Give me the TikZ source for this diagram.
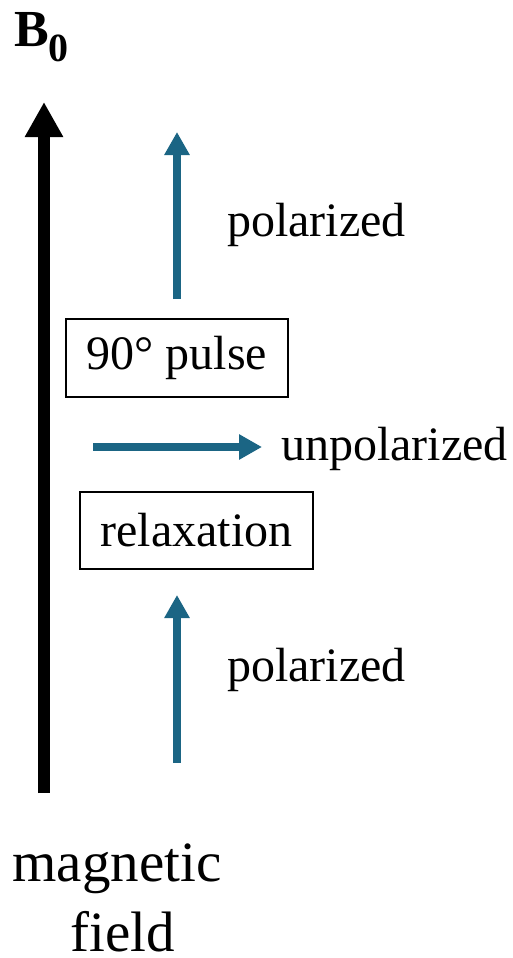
\documentclass[tikz,border=0pt]{standalone}
\usepackage{fontspec}
\setmainfont{Liberation Serif}
\usetikzlibrary{arrows.meta}
\definecolor{arrowblue}{HTML}{1B6584}
\begin{document}
\begin{tikzpicture}[x=1pt,y=-1pt,
  lbl/.style={font=\fontsize{48}{52}\selectfont, inner sep=0pt},
  bigl/.style={font=\fontsize{57}{62}\selectfont, inner sep=0pt},
  boxn/.style={draw, line width=1.5pt, font=\fontsize{48}{52}\selectfont, inner sep=0pt},
  bluearrow/.style={draw=arrowblue, line width=8.5pt, -{Triangle[length=23pt,width=24pt]}},
  fieldarrow/.style={draw=black, line width=12pt, -{Triangle[length=35pt,width=36pt]}}]
\useasboundingbox (0,0) rectangle (513,958);
% field arrow
\coordinate (fb) at (44,793);
\coordinate (ft) at (44,102);
\draw[fieldarrow] (fb) -- (ft);
\node[inner sep=0pt, anchor=base west] (b0) at (14,47) {\fontsize{52}{56}\selectfont\bfseries B\raisebox{-15pt}{\fontsize{40}{44}\selectfont 0}};
% boxes
\node[boxn, minimum width=222pt, minimum height=78pt] (pulse) at (177,358) {90° pulse};
\node[boxn, minimum width=233pt, minimum height=77pt] (relax) at (196.5,530.5) {relaxation};
% arrows
\coordinate (ua) at (177,299);
\coordinate (ub) at (177,132);
\draw[bluearrow] (ua) -- (ub);
\coordinate (la) at (177,763);
\coordinate (lb) at (177,595);
\draw[bluearrow] (la) -- (lb);
\coordinate (ha) at (93,447);
\coordinate (hb) at (262,447);
\draw[bluearrow] (ha) -- (hb);
% labels
\node[lbl, anchor=west] (pol1) at (227,225) {polarized};
\node[lbl, anchor=west] (unpol) at (281,449) {unpolarized};
\node[lbl, anchor=west] (pol2) at (227,670) {polarized};
\node[bigl, anchor=base] (mag) at (117,881) {magnetic};
\node[bigl, anchor=base] (fld) at (123,951) {field};
\end{tikzpicture}
\end{document}
